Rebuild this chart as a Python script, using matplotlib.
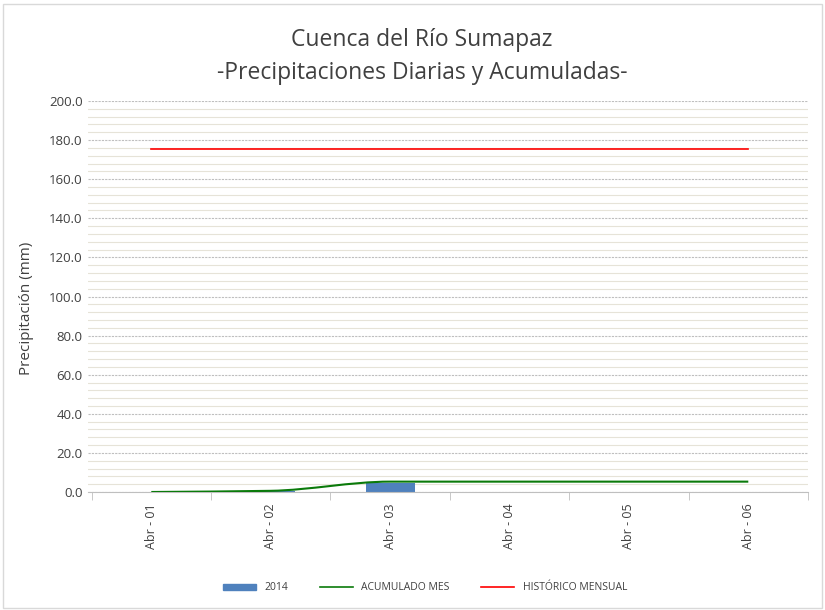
import numpy as np
import matplotlib
matplotlib.use('Agg')
import matplotlib.pyplot as plt
from matplotlib.path import Path
from matplotlib.patches import PathPatch, Rectangle
from matplotlib.lines import Line2D

plt.rcParams['font.family'] = ['Open Sans', 'DejaVu Sans']

# datos
dias = ['Abr - 01', 'Abr - 02', 'Abr - 03', 'Abr - 04', 'Abr - 05', 'Abr - 06']
diaria_2014 = [0.0, 0.6, 4.7, 0.0, 0.0, 0.0]
acumulado_mes = [0.0, 0.6, 5.3, 5.3, 5.3, 5.3]
historico_mensual = [175.5, 175.5, 175.5, 175.5, 175.5, 175.5]

x = np.arange(len(dias))

fig = plt.figure(figsize=(8.25, 6.1), dpi=100)
ax = fig.add_axes([88 / 825, 1 - 492 / 610, 720 / 825, 391 / 610])

# marco del grafico
fig.patches.append(Rectangle((0.004, 0.004), 0.992, 0.99, transform=fig.transFigure,
                             fill=False, edgecolor='#d9d9d9', linewidth=1))

# cuadricula
for v in np.arange(0, 201, 4):
    if v % 20 == 0:
        ax.axhline(v, color='#bfbfbf', linewidth=0.8, linestyle=(0, (2, 1)), zorder=0)
    else:
        ax.axhline(v, color='#e6e3d8', linewidth=0.8, zorder=0)

ax.bar(x, diaria_2014, width=0.41, color='#4f81bd', zorder=2)

# linea suavizada con curvas de Bezier (tangentes monotonas, sin sobrepaso)
pts = np.column_stack([x, acumulado_mes]).astype(float)
slopes = np.diff(pts[:, 1])
tang = np.zeros(len(pts))
for i in range(1, len(pts) - 1):
    if slopes[i - 1] * slopes[i] > 0:
        tang[i] = 2 / (1 / slopes[i - 1] + 1 / slopes[i])
tang[0] = slopes[0]
verts = [tuple(pts[0])]
codes = [Path.MOVETO]
for i in range(len(pts) - 1):
    p1, p2 = pts[i], pts[i + 1]
    c1 = (p1[0] + 1 / 3, p1[1] + tang[i] / 3)
    c2 = (p2[0] - 1 / 3, p2[1] - tang[i + 1] / 3)
    verts += [c1, c2, tuple(p2)]
    codes += [Path.CURVE4] * 3
ax.add_patch(PathPatch(Path(verts, codes), fill=False, edgecolor='#0a7a0a',
                       linewidth=1.5, zorder=3))

ax.plot(x, historico_mensual, color='#ff0000', linewidth=1.2, zorder=3)

ax.set_xlim(-0.53, len(dias) - 0.53)
ax.set_ylim(0, 200)
ax.set_yticks(np.arange(0, 201, 20))
ax.set_yticklabels([f'{v:.1f}' for v in np.arange(0, 201, 20)], fontsize=9.5, color='#404040')
ax.set_xticks(x)
ax.set_xticklabels(dias, rotation=90, fontsize=9, color='#404040')
ax.tick_params(axis='x', length=0, pad=8)
ax.tick_params(axis='y', length=0, pad=4)
ax.set_xticks(np.arange(-0.5, len(dias), 1), minor=True)
ax.tick_params(axis='x', which='minor', length=6, color='#bfbfbf', direction='out')

for s in ['top', 'right', 'left']:
    ax.spines[s].set_visible(False)
ax.spines['bottom'].set_color('#bfbfbf')

ax.set_ylabel('Precipitación (mm)', fontsize=11, color='#404040')
ax.yaxis.set_label_coords(-0.075, 0.47)

fig.text(422 / 825, 1 - 40 / 610, 'Cuenca del Río Sumapaz', ha='center', va='center',
         fontsize=16.5, color='#404040')
fig.text(422 / 825, 1 - 73 / 610, '-Precipitaciones Diarias y Acumuladas-', ha='center',
         va='center', fontsize=16.5, color='#404040')

handles = [Rectangle((0, 0), 1, 1, color='#4f81bd'),
           Line2D([], [], color='#0a7a0a', linewidth=1.2),
           Line2D([], [], color='#ff0000', linewidth=1.2)]
fig.legend(handles, ['2014', 'ACUMULADO MES', 'HISTÓRICO MENSUAL'], loc='center',
           bbox_to_anchor=(425 / 825, 1 - 588 / 610), ncol=3, frameon=False,
           fontsize=7.5, handlelength=3.2, handleheight=0.6, columnspacing=3,
           labelcolor='#404040')

fig.savefig('out.png', dpi=100)
